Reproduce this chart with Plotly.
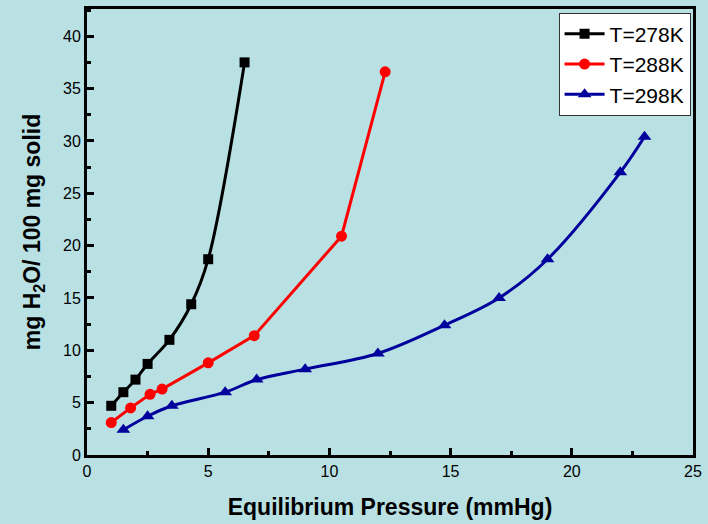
import plotly.graph_objects as go

# Data
p_278 = [1.0, 1.5, 2.0, 2.5, 3.4, 4.3, 5.0, 6.5]
w_278 = [4.7, 6.0, 7.2, 8.7, 11.0, 14.4, 18.7, 37.5]

p_288 = [1.0, 1.8, 2.6, 3.1, 5.0, 6.9, 10.5, 12.3]
w_288 = [3.1, 4.5, 5.8, 6.3, 8.8, 11.4, 20.9, 36.6]

p_298 = [1.5, 2.5, 3.5, 5.7, 7.0, 9.0, 12.0, 14.75, 17.0, 19.0, 22.0, 23.0]
w_298 = [2.4, 3.7, 4.7, 6.0, 7.2, 8.2, 9.7, 12.4, 15.0, 18.7, 27.0, 30.4]

names = ["T=278K", "T=288K", "T=298K"]
colors = ["#000000", "#FF0000", "#00009C"]
symbols = ["square", "circle", "triangle-up"]
shapes = ["spline", "linear", "spline"]
sizes = [10, 11, 12]

bg = "#B9E0E3"

fig = go.Figure()
for px, wy, nm, c, s, sh, sz in zip([p_278, p_288, p_298], [w_278, w_288, w_298],
                                    names, colors, symbols, shapes, sizes):
    fig.add_trace(go.Scatter(
        x=px, y=wy, name=nm, mode="lines+markers",
        line=dict(color=c, width=3, shape=sh),
        marker=dict(symbol=s, size=sz, color=c),
    ))

axis_font = dict(family="Liberation Sans, Arial, sans-serif", size=16, color="#000000")
xtitle_font = dict(family="Liberation Sans, Arial, sans-serif", size=23, color="#000000")
ytitle_font = dict(family="Liberation Sans, Arial, sans-serif", size=23, color="#000000")

fig.update_layout(
    width=708, height=524,
    margin=dict(l=87, r=15, t=6, b=69),
    paper_bgcolor=bg, plot_bgcolor=bg,
    showlegend=True,
    legend=dict(
        x=0.996, y=0.992, xanchor="right", yanchor="top",
        bgcolor="#FFFFFF", bordercolor="#333333", borderwidth=1,
        font=dict(family="Liberation Sans, Arial, sans-serif", size=21, color="#000000"),
        itemwidth=40, tracegroupgap=0,
    ),
    xaxis=dict(
        range=[0, 25], tickvals=[0, 5, 10, 15, 20, 25],
        ticks="inside", ticklen=7, tickwidth=3, tickcolor="#000000",
        minor=dict(ticks="inside", ticklen=4, tickwidth=3, tickcolor="#000000", dtick=2.5),
        showline=True, linewidth=3, linecolor="#000000", mirror=True,
        showgrid=False, zeroline=False,
        tickfont=axis_font,
        title=dict(text="<b>Equilibrium Pressure (mmHg)</b>", font=xtitle_font, standoff=20),
    ),
    yaxis=dict(
        range=[0, 42.6], tickvals=[0, 5, 10, 15, 20, 25, 30, 35, 40],
        ticks="inside", ticklen=7, tickwidth=3, tickcolor="#000000",
        minor=dict(ticks="inside", ticklen=4, tickwidth=3, tickcolor="#000000", dtick=2.5),
        showline=True, linewidth=3, linecolor="#000000", mirror=True,
        showgrid=False, zeroline=False,
        tickfont=axis_font,
        title=dict(text="<b>mg H<sub>2</sub>O/ 100 mg solid</b>", font=ytitle_font, standoff=16),
    ),
)

fig.write_html("out.html")
